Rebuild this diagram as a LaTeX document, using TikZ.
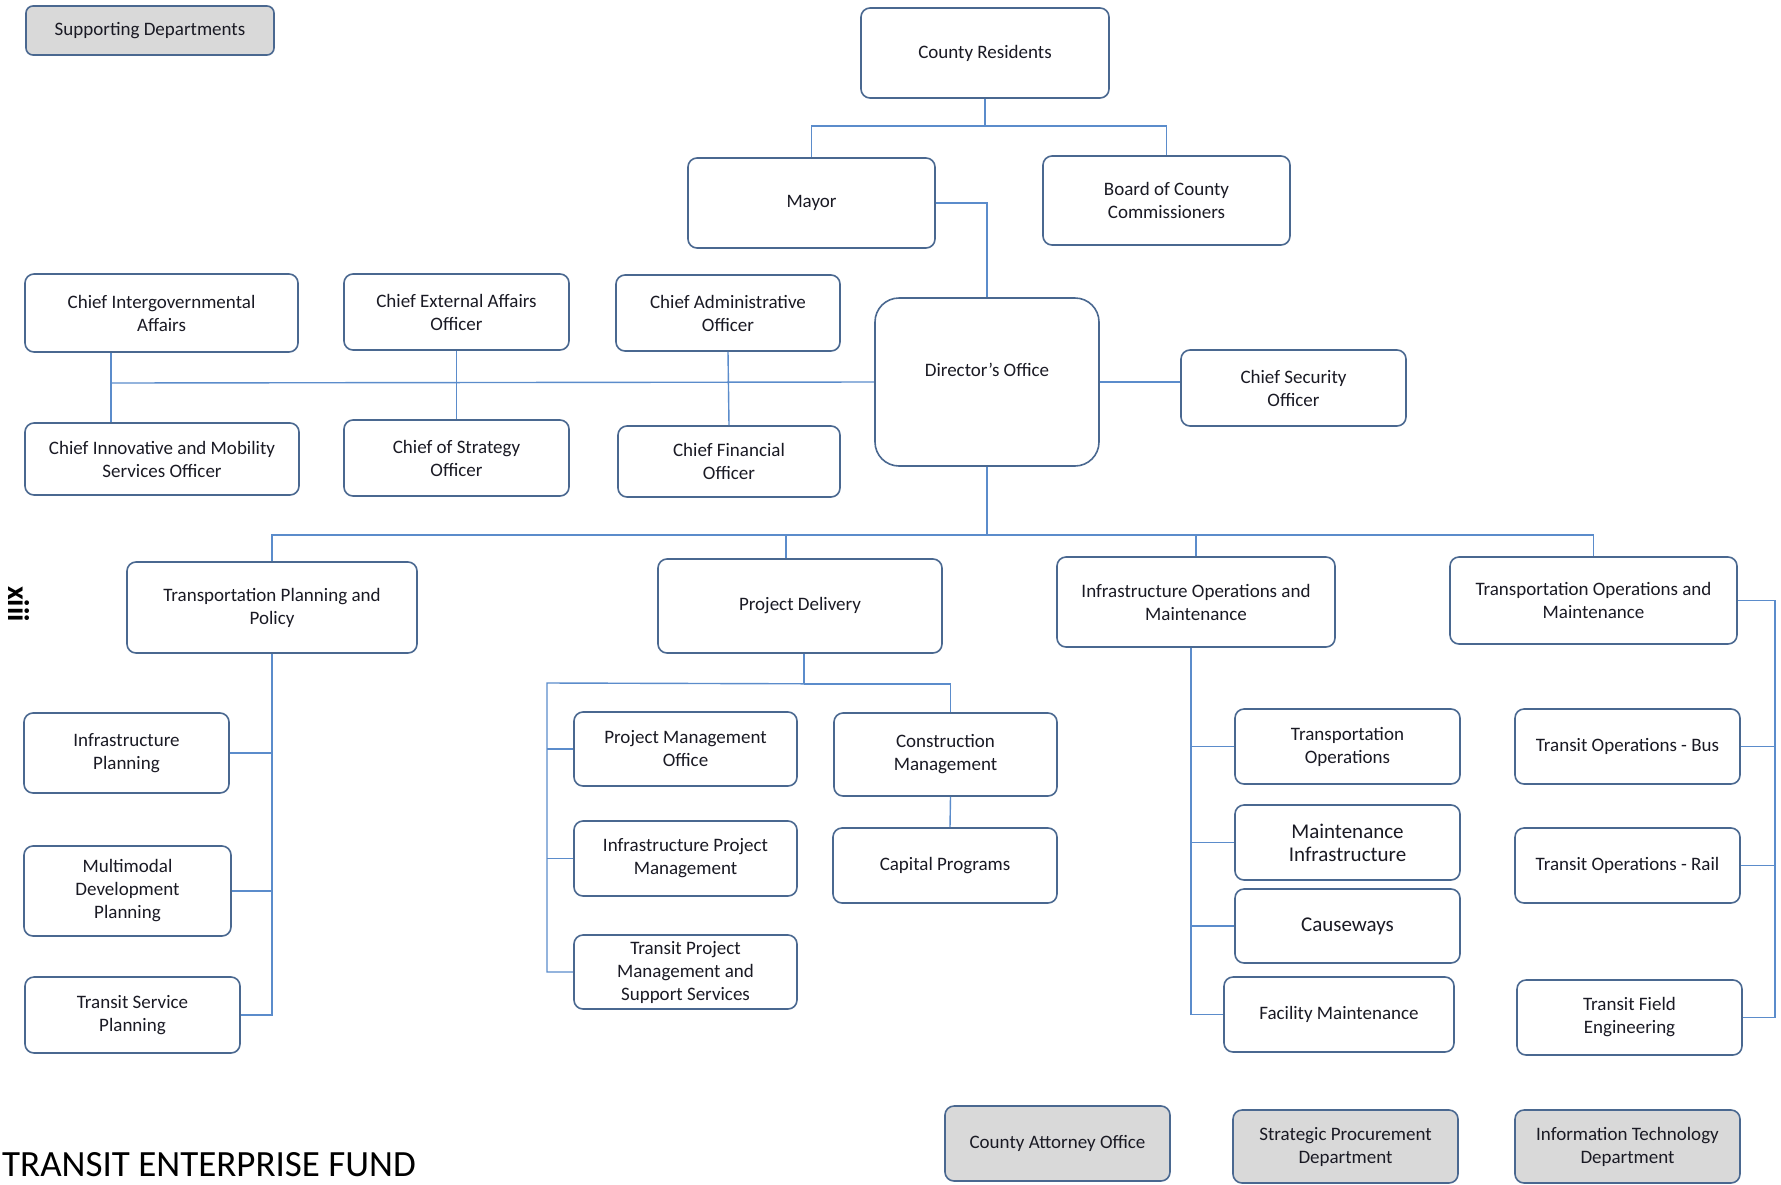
\documentclass[tikz,border=0pt]{standalone}
\usepackage{fontspec}
\setmainfont{Carlito}
\definecolor{boxblue}{HTML}{4A6890}
\definecolor{linkblue}{HTML}{5B8CCB}
\definecolor{deptgrey}{HTML}{D9D9D9}
\definecolor{txt}{HTML}{1A1A24}
\begin{document}
\begin{tikzpicture}[x=1pt,y=-1pt,
    unit/.style={draw=boxblue,line width=1.6pt,rounded corners=9pt,fill=white,align=center,
      text=txt,font=\fontsize{19}{23}\selectfont,inner sep=2pt},
    support/.style={unit,fill=deptgrey},
    conn/.style={draw=linkblue,line width=1.4pt}]
  \useasboundingbox (0,0) rectangle (1781,1184);
  \node[support,minimum width=248pt,minimum height=49pt,rounded corners=7pt] (supp) at (150,30.5) {Supporting Departments};
  \node[unit,minimum width=248pt,minimum height=90pt] (res) at (985,53) {County Residents};
  \node[unit,minimum width=247pt,minimum height=90pt] (mayor) at (811.5,203) {Mayor};
  \node[unit,minimum width=247pt,minimum height=89pt] (board) at (1166.5,200.5) {Board of County\\Commissioners};
  \node[unit,minimum width=273pt,minimum height=78pt] (intergov) at (161.5,313) {Chief Intergovernmental\\Affairs};
  \node[unit,minimum width=225pt,minimum height=76pt] (external) at (456.5,312) {Chief External Affairs\\Officer};
  \node[unit,minimum width=224pt,minimum height=76pt] (admin) at (728,313) {Chief Administrative\\Officer};
  \node[unit,minimum width=224pt,minimum height=168pt,rounded corners=24pt,text height=14pt,text depth=25pt] (dir) at (987,382) {Director’s Office};
  \node[unit,minimum width=225pt,minimum height=76pt] (security) at (1293.5,388) {Chief Security\\Officer};
  \node[unit,minimum width=274pt,minimum height=72pt] (mobility) at (162,459) {Chief Innovative and Mobility\\Services Officer};
  \node[unit,minimum width=225pt,minimum height=76pt] (strategy) at (456.5,458) {Chief of Strategy\\Officer};
  \node[unit,minimum width=222pt,minimum height=71pt] (finance) at (729,461.5) {Chief Financial\\Officer};
  \node[unit,minimum width=290pt,minimum height=91pt] (tpp) at (272,607.5) {Transportation Planning and\\Policy};
  \node[unit,minimum width=284pt,minimum height=94pt] (pd) at (800,606) {Project Delivery};
  \node[unit,minimum width=278pt,minimum height=90pt] (iom) at (1196,602) {Infrastructure Operations and\\Maintenance};
  \node[unit,minimum width=287pt,minimum height=87pt] (tom) at (1593.5,600.5) {Transportation Operations and\\Maintenance};
  \node[unit,minimum width=205pt,minimum height=80pt] (infplan) at (126.5,753) {Infrastructure\\Planning};
  \node[unit,minimum width=207pt,minimum height=90pt] (multimodal) at (127.5,891) {Multimodal\\Development\\Planning};
  \node[unit,minimum width=215pt,minimum height=76pt] (tsp) at (132.5,1015) {Transit Service\\Planning};
  \node[unit,minimum width=223pt,minimum height=74pt] (pmo) at (685.5,749) {Project Management\\Office};
  \node[unit,minimum width=223pt,minimum height=75pt] (infpm) at (685.5,858.5) {Infrastructure Project\\Management};
  \node[unit,minimum width=223pt,minimum height=74pt] (transpm) at (685.5,972) {Transit Project\\Management and\\Support Services};
  \node[unit,minimum width=223pt,minimum height=83pt] (constr) at (945.5,754.5) {Construction\\Management};
  \node[unit,minimum width=224pt,minimum height=75pt] (capital) at (945,865.5) {Capital Programs};
  \node[unit,minimum width=225pt,minimum height=75pt] (transops) at (1347.5,746.5) {Transportation\\Operations};
  \node[unit,minimum width=225pt,minimum height=75pt,font=\fontsize{21}{23}\selectfont] (maint) at (1347.5,842.5) {Maintenance\\Infrastructure};
  \node[unit,minimum width=225pt,minimum height=74pt,font=\fontsize{21}{23}\selectfont] (causeways) at (1347.5,926) {Causeways};
  \node[unit,minimum width=230pt,minimum height=75pt] (facility) at (1339,1014.5) {Facility Maintenance};
  \node[unit,minimum width=225pt,minimum height=75pt] (bus) at (1627.5,746.5) {Transit Operations - Bus};
  \node[unit,minimum width=225pt,minimum height=75pt] (rail) at (1627.5,865.5) {Transit Operations - Rail};
  \node[unit,minimum width=225pt,minimum height=75pt] (field) at (1629.5,1017.5) {Transit Field\\Engineering};
  \node[support,minimum width=225pt,minimum height=75pt] (attorney) at (1057.5,1143.5) {County Attorney Office};
  \node[support,minimum width=225pt,minimum height=73pt] (procure) at (1345.5,1146.5) {Strategic Procurement\\Department};
  \node[support,minimum width=225pt,minimum height=73pt] (itdept) at (1627.5,1146.5) {Information Technology\\Department};
  \node[rotate=-90,font=\fontsize{30}{30}\selectfont\bfseries,inner sep=0pt] (pagenum) at (19,604) {xiii};
  \node[anchor=base west,font=\fontsize{37}{40}\selectfont,inner sep=0pt] (fund) at (2,1176) {TRANSIT ENTERPRISE FUND};
  \coordinate (topfork) at (985,126);
  \coordinate (leftend) at (111,383);
  \coordinate (pdleft) at (547,683);
  \begin{scope}[conn]
    \draw (res.south) -- (topfork);
    \draw (mayor.north) |- (topfork) -| (board.north);
    \draw (mayor.east) -| (dir.north);
    \draw (dir.west) -- (leftend);
    \draw (intergov.south -| leftend) -- (mobility.north -| leftend);
    \draw (external.south) -- (strategy.north);
    \draw (admin.south) -- (finance.north);
    \draw (dir.east) -- (security.west |- dir.east);
    \draw (dir.south) -- ++(0,68) coordinate (midfork);
    \draw (tpp.north) |- (midfork) -| (tom.north);
    \draw ([xshift=-14pt]pd.north) -- ([xshift=-14pt]pd.north |- midfork);
    \draw (iom.north) -- (iom.north |- midfork);
    \draw (tpp.south) |- (tsp.east);
    \draw (infplan.east) -- (infplan.east -| tpp.south);
    \draw (multimodal.east) -- (multimodal.east -| tpp.south);
    \draw ([xshift=4pt]pd.south) -- ++(0,30) coordinate (pdfork);
    \draw (pdfork) -- (pdleft) |- (transpm.west);
    \draw (pdfork) -| ([xshift=5pt]constr.north);
    \draw (pmo.west) -- (pmo.west -| pdleft);
    \draw (infpm.west) -- (infpm.west -| pdleft);
    \draw ([xshift=5pt]constr.south) -- ([xshift=5pt]capital.north);
    \draw ([xshift=-5pt]iom.south) coordinate (iomline) |- (facility.west);
    \draw (transops.west) -- (transops.west -| iomline);
    \draw (maint.west) -- (maint.west -| iomline);
    \draw (causeways.west) -- (causeways.west -| iomline);
    \draw (tom.east) -- ++(37,0) coordinate (tomright) |- (field.east);
    \draw (bus.east) -- (bus.east -| tomright);
    \draw (rail.east) -- (rail.east -| tomright);
  \end{scope}
\end{tikzpicture}
\end{document}
